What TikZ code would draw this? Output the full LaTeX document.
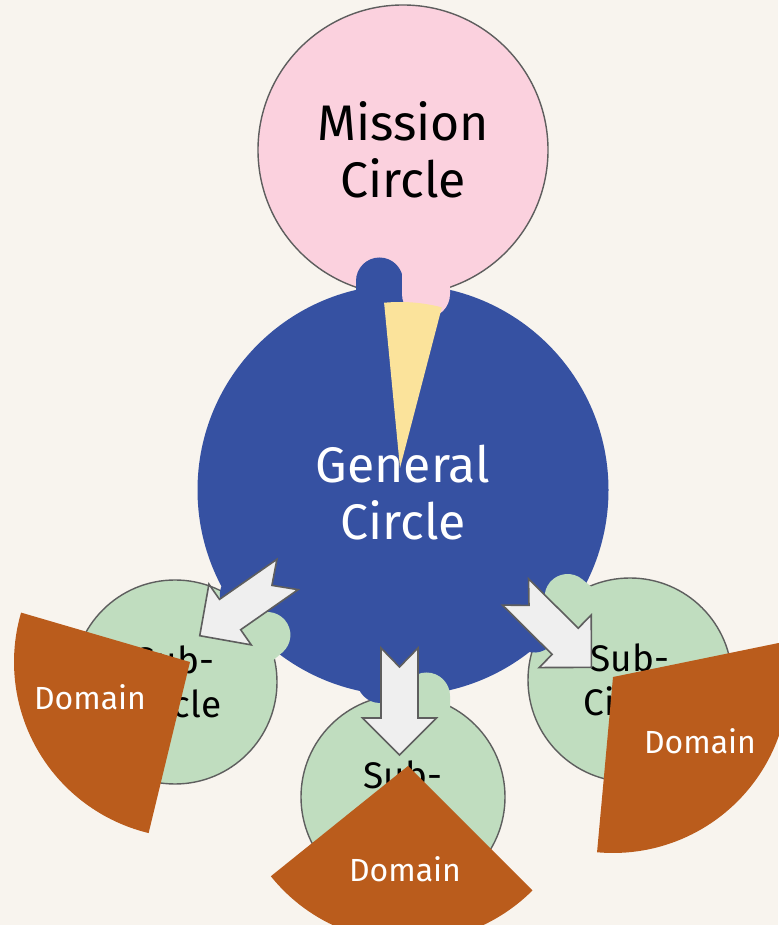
\documentclass[tikz,border=0pt]{standalone}
\usepackage{fontspec}
\setmainfont{Fira Sans}
\definecolor{paper}{HTML}{F8F4EE}
\definecolor{missionpink}{HTML}{FBD1DE}
\definecolor{generalblue}{HTML}{3651A2}
\definecolor{subgreen}{HTML}{C0DDBF}
\definecolor{aimyellow}{HTML}{FBE39B}
\definecolor{domainrust}{HTML}{BA5C1C}
\definecolor{edgegrey}{HTML}{5E5E5E}
\definecolor{arrowfill}{HTML}{EFEFEF}

% a rounded link tab: colour, end centre x, y, direction, half width
\newcommand{\linktab}[5]{%
  \fill[#1,shift={(#2,#3)},rotate=#4]
    (-60,-#5) -- (0,-#5) arc[start angle=-90,end angle=90,radius=#5] -- (-60,#5) -- cycle;}
% a domain wedge: apex, start angle, end angle
\newcommand{\domainwedge}[3]{%
  \fill[domainrust] (#1) -- ++(#2:176) arc[start angle=#2,end angle=#3,radius=176] -- cycle;}

\tikzset{
  x=1pt, y=1pt,
  circlebox/.style={circle, inner sep=0pt, align=center},
  bigtext/.style={font=\fontsize{50}{57}\selectfont},
  subtext/.style={font=\fontsize{37}{44}\selectfont},
  domaintext/.style={font=\fontsize{32}{38}\selectfont, text=white},
  notched/.style={fill=arrowfill, draw=edgegrey, line width=1.6pt, line join=miter},
  notcharrow/.pic={\path[notched] (0,18.5) -- (70,18.5) -- (70,37) -- (107,0) -- (70,-37)
      -- (70,-18.5) -- (0,-18.5) -- (19,0) -- cycle;}
}

\begin{document}
\begin{tikzpicture}
\fill[paper] (0,0) rectangle (778,925);
\useasboundingbox (0,0) rectangle (778,925);

% circles
\node[circlebox, minimum size=290, fill=missionpink, draw=edgegrey, line width=1.4pt] (mission) at (403,775) {};
\node[circlebox, minimum size=204, fill=subgreen, draw=edgegrey, line width=1.4pt] (subleft) at (175,243) {};
\node[circlebox, minimum size=204, fill=subgreen, draw=edgegrey, line width=1.4pt] (submid) at (403,128) {};
\node[circlebox, minimum size=204, fill=subgreen, draw=edgegrey, line width=1.4pt] (subright) at (630,245) {};
\node[circlebox, minimum size=411, fill=generalblue] (general) at (403,435) {};

% link tabs of the general circle
\linktab{generalblue}{379.5}{644}{90}{23.5}
\linktab{generalblue}{380}{245}{-90}{23}
\linktab{generalblue}{534}{295.4}{-39.9}{23}
\linktab{generalblue}{242.8}{330.2}{220.1}{23}
% link tabs back into the general circle
\linktab{missionpink}{426}{631}{-90}{24}
\linktab{subgreen}{426.5}{229}{90}{23.5}
\linktab{subgreen}{567.6}{328}{140.1}{23}
\linktab{subgreen}{267.4}{290}{40.1}{23}

% aim wedge
\coordinate (aimtip) at (400,457);
\fill[aimyellow] (aimtip) -- ++(75.4:166) arc[start angle=75.4,end angle=95.5,radius=166] -- cycle;

% labels
\node[bigtext, align=center] (missionlabel) at (mission) {Mission\\Circle};
\node[bigtext, align=center, text=white] (generallabel) at (403,432) {General\\Circle};
\node[subtext, align=center] (subleftlabel) at (subleft) {Sub-\\Circle};
\node[subtext, align=center] (submidlabel) at (submid) {Sub-\\Circle};
\node[subtext, align=center] (subrightlabel) at (subright) {Sub-\\Circle};

% delegation arrows
\pic[rotate=214.9] at (287.5,350.5) {notcharrow};
\pic[rotate=-90] at (399.5,277) {notcharrow};
\pic[rotate=-44.8] at (515.5,333) {notcharrow};

% domains
\coordinate (domleft) at (190,263);
\coordinate (domright) at (613,248);
\coordinate (dommid) at (408,159);
\domainwedge{domleft}{163.7}{256.4}
\domainwedge{domright}{264.8}{371.6}
\domainwedge{dommid}{218.8}{315}
\node[domaintext] (domleftlabel) at (90,228) {Domain};
\node[domaintext] (domrightlabel) at (700,184) {Domain};
\node[domaintext] (dommidlabel) at (405,56) {Domain};
\end{tikzpicture}
\end{document}
